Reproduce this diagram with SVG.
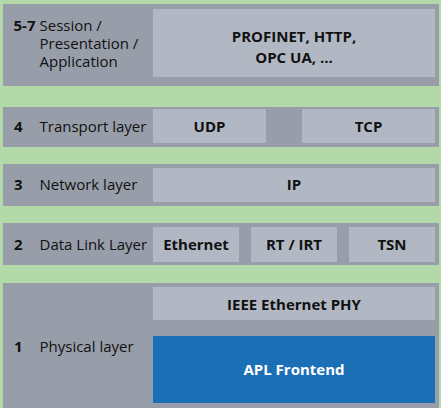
<svg xmlns="http://www.w3.org/2000/svg" width="441" height="408" viewBox="0 0 441 408">
<style>
.band{fill:#989ea9}
.box{fill:#b2b8c3}
.apl{fill:#1b6fb7}
.num{font-family:"Open Sans","Liberation Sans",sans-serif;font-size:15px;font-weight:bold;fill:#111111}
.lbl{font-family:"Open Sans","Liberation Sans",sans-serif;font-size:15px;fill:#111111}
.bt{font-family:"Open Sans","Liberation Sans",sans-serif;font-size:15px;font-weight:bold;fill:#111111;text-anchor:middle}
.wt{fill:#ffffff}
</style>
<rect width="441" height="408" fill="#b4d9a9"/>
<g id="layer57">
<rect class="band" x="3" y="4" width="436" height="82"/>
<rect class="box" x="153" y="9" width="282" height="68"/>
<text class="num" x="13.5" y="31">5-7</text>
<text class="lbl" x="39.5" y="31">Session /<tspan x="39.5" dy="18">Presentation /</tspan><tspan x="39.5" dy="18">Application</tspan></text>
<text class="bt" x="294" y="42">PROFINET, HTTP,<tspan x="294" dy="21">OPC UA, ...</tspan></text>
</g>
<g id="layer4">
<rect class="band" x="3" y="107" width="436" height="40"/>
<rect class="box" x="153" y="109" width="113" height="34"/>
<rect class="box" x="302" y="109" width="133" height="34"/>
<text class="num" x="14" y="132">4</text>
<text class="lbl" x="39.5" y="132">Transport layer</text>
<text class="bt" x="209.5" y="132">UDP</text>
<text class="bt" x="368.5" y="132">TCP</text>
</g>
<g id="layer3">
<rect class="band" x="3" y="164" width="436" height="42"/>
<rect class="box" x="153" y="168" width="282" height="34"/>
<text class="num" x="14" y="190">3</text>
<text class="lbl" x="39.5" y="190">Network layer</text>
<text class="bt" x="294" y="190">IP</text>
</g>
<g id="layer2">
<rect class="band" x="3" y="223" width="436" height="42"/>
<rect class="box" x="153" y="227" width="86" height="35"/>
<rect class="box" x="251" y="227" width="86" height="35"/>
<rect class="box" x="349" y="227" width="86" height="35"/>
<text class="num" x="14" y="250">2</text>
<text class="lbl" x="39.5" y="250">Data Link Layer</text>
<text class="bt" x="196" y="250">Ethernet</text>
<text class="bt" x="294" y="250">RT / IRT</text>
<text class="bt" x="392" y="250">TSN</text>
</g>
<g id="layer1">
<rect class="band" x="3" y="283" width="436" height="125"/>
<rect class="box" x="153" y="287" width="282" height="33"/>
<rect class="apl" x="153" y="336" width="282" height="67"/>
<text class="num" x="14" y="352">1</text>
<text class="lbl" x="39.5" y="352">Physical layer</text>
<text class="bt" x="294" y="310">IEEE Ethernet PHY</text>
<text class="bt wt" x="294" y="375">APL Frontend</text>
</g>
<g id="connectors"></g>
</svg>
